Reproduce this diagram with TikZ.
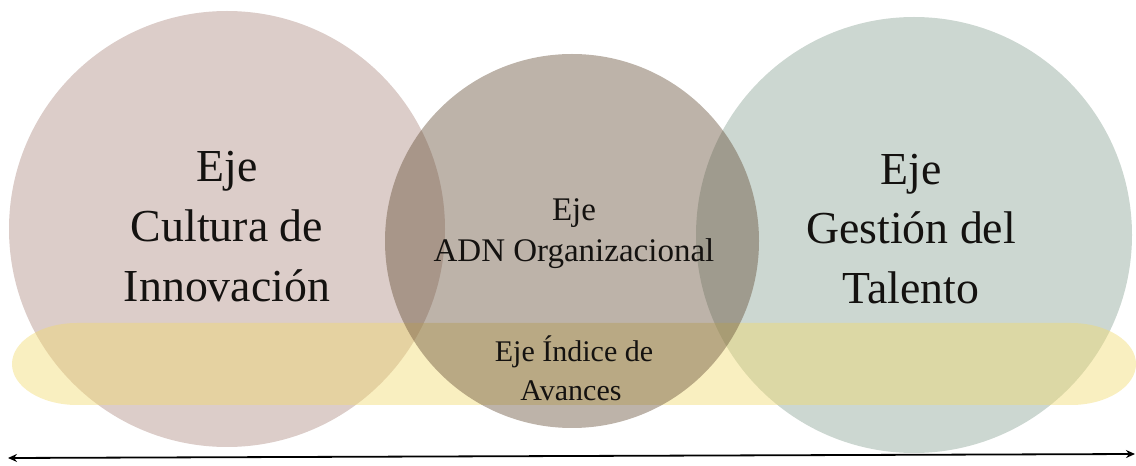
\documentclass[tikz,border=0pt]{standalone}
\usepackage{fontspec}
\setmainfont{Liberation Serif}
\usetikzlibrary{arrows.meta}

\definecolor{cultura}{RGB}{220,205,201}
\definecolor{talento}{RGB}{204,215,209}
\definecolor{avances}{RGB}{242,218,109}
\definecolor{adn}{RGB}{98,74,50}
\definecolor{ink}{RGB}{20,18,16}

\tikzset{
  bigtext/.style={anchor=base, inner sep=0pt, text=ink, font=\fontsize{45.8}{55}\selectfont},
  smalltext/.style={anchor=base, inner sep=0pt, text=ink, font=\fontsize{33}{39}\selectfont},
  bandtext/.style={anchor=base, inner sep=0pt, text=ink, font=\fontsize{30}{36}\selectfont},
  axis/.style={line width=1.8pt, {Stealth[length=9pt,width=8pt]}-{Stealth[length=9pt,width=8pt]}}
}

\begin{document}
\begin{tikzpicture}[x=1pt,y=1pt]
  \useasboundingbox (0,0) rectangle (1136,466);

  % the two outer axes
  \fill[cultura] (227,237) circle[radius=218];
  \fill[talento] (914,231) circle[radius=218];

  % horizontal band across the axes
  \fill[avances, fill opacity=0.43]
    (77,143) -- (1071,143)
    arc[start angle=90, end angle=-90, x radius=65, y radius=41]
    -- (77,61)
    arc[start angle=270, end angle=90, x radius=65, y radius=41]
    -- cycle;

  % central axis
  \fill[adn, fill opacity=0.42] (572,225) circle[radius=187];

  % labels
  \node[bigtext] (c1) at (227,284) {Eje};
  \node[bigtext] (c2) at (227,224) {Cultura de};
  \node[bigtext] (c3) at (227,164) {Innovación};

  \node[bigtext] (g1) at (911,281) {Eje};
  \node[bigtext] (g2) at (911,222) {Gestión del};
  \node[bigtext] (g3) at (911,162) {Talento};

  \node[smalltext] (a1) at (574,245) {Eje};
  \node[smalltext] (a2) at (574,204) {ADN Organizacional};

  \node[bandtext] (i1) at (574,104) {Eje Índice de};
  \node[bandtext] (i2) at (571,65) {Avances};

  % double-headed axis line
  \coordinate (axL) at (8,8);
  \coordinate (axR) at (1135,12);
  \draw[axis] (axL) -- (axR);
\end{tikzpicture}
\end{document}
